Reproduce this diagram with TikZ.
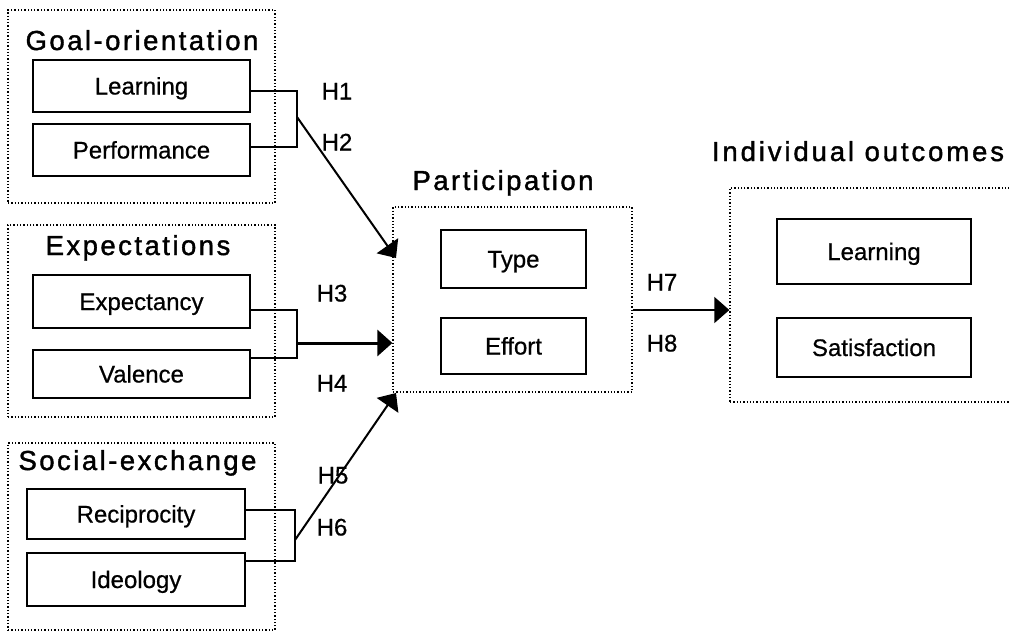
\documentclass[tikz,border=0pt]{standalone}
\usepackage{fontspec}
\setmainfont{Liberation Sans}
\usetikzlibrary{arrows.meta}
\begin{document}
\begin{tikzpicture}[x=1pt,y=-1pt,
 box/.style={draw, line width=2pt, inner sep=0pt, font=\fontsize{24}{24}\selectfont\addfontfeature{FakeBold=0.6}, text height=17pt, text depth=0pt},
 group/.style={draw, line width=1.3pt, dash pattern=on 1.3pt off 2pt, inner sep=0pt},
 ttl/.style={anchor=base, inner sep=0pt, font=\fontsize{27.5}{27.5}\selectfont\addfontfeature{LetterSpace=9,FakeBold=1.4}},
 hyp/.style={inner sep=0pt, font=\fontsize{24}{24}\selectfont\addfontfeature{FakeBold=0.6}, text height=17pt, text depth=0pt},
 link/.style={line width=1.5pt},
 arr/.style={line width=2pt, -{Triangle[length=15pt,width=26pt]}},
]
\useasboundingbox (0,0) rectangle (1009,632);

% group containers
\node[group, minimum width=267pt, minimum height=193pt] (goal) at (141.5,106.5) {};
\node[group, minimum width=267pt, minimum height=192pt] (expect) at (141.5,321) {};
\node[group, minimum width=267pt, minimum height=187pt] (social) at (141.5,536.5) {};
\node[group, minimum width=239pt, minimum height=185pt] (part) at (512.5,299.5) {};
\node[group, minimum width=300pt, minimum height=214pt] (out) at (880,295) {};

% titles
\node[ttl] (tgoal) at (142,50) {Goal-orientation};
\node[ttl] (texp) at (138,255) {Expectations};
\node[ttl] (tsoc) at (137.5,470) {Social-exchange};
\node[ttl] (tpart) at (503,190) {Participation};
\node[ttl, font=\fontsize{27.5}{27.5}\selectfont\addfontfeature{LetterSpace=10.5,FakeBold=1.4}] (tout) at (858,161) {Individual outcomes};

% boxes
\node[box, minimum width=217pt, minimum height=52pt] (gl) at (141.5,86) {Learning};
\node[box, minimum width=217pt, minimum height=52pt] (gp) at (141.5,150) {Performance};
\node[box, minimum width=217pt, minimum height=53pt] (ee) at (141.5,301.5) {Expectancy};
\node[box, minimum width=217pt, minimum height=48pt] (ev) at (141.5,374) {Valence};
\node[box, minimum width=218pt, minimum height=50pt] (sr) at (136,514) {Reciprocity};
\node[box, minimum width=218pt, minimum height=53pt] (si) at (136,579.5) {Ideology};
\node[box, minimum width=145pt, minimum height=58pt] (pt) at (513.5,259) {Type};
\node[box, minimum width=145pt, minimum height=56pt] (pe) at (513.5,346) {Effort};
\node[box, minimum width=194pt, minimum height=65pt] (ol) at (874,251.5) {Learning};
\node[box, minimum width=194pt, minimum height=59pt] (os) at (874,347.5) {Satisfaction};

% hypothesis labels
\node[hyp] (h1) at (337,91) {H1};
\node[hyp] (h2) at (337,142) {H2};
\node[hyp] (h3) at (332,293) {H3};
\node[hyp] (h4) at (332,383) {H4};
\node[hyp] (h5) at (333,475) {H5};
\node[hyp] (h6) at (332,527) {H6};
\node[hyp] (h7) at (662,282) {H7};
\node[hyp] (h8) at (662,343) {H8};

% goal bracket
\coordinate (g1) at (297,91);
\coordinate (g2) at (297,147);
\coordinate (gj) at (297,117);
\coordinate (t1) at (396,258);
\draw[link] (gl.east |- g1) -- (g1) -- (g2) -- (gp.east |- g2);
\draw[arr] (gj) -- (t1);

% expectations bracket
\coordinate (e1) at (297,310);
\coordinate (e2) at (297,358);
\coordinate (ej) at (297,343);
\draw[link] (ee.east |- e1) -- (e1) -- (e2) -- (ev.east |- e2);
\draw[arr, line width=3pt] (ej) -- (part.west |- ej);

% social bracket
\coordinate (s1) at (295,510);
\coordinate (s2) at (295,561);
\coordinate (sj) at (295,540);
\coordinate (t3) at (396,393);
\draw[link] (sr.east |- s1) -- (s1) -- (s2) -- (si.east |- s2);
\draw[arr] (sj) -- (t3);

% participation -> outcomes
\coordinate (hy) at (0,310);
\draw[arr, line width=1.5pt] (part.east |- hy) -- (out.west |- hy);
\end{tikzpicture}
\end{document}
